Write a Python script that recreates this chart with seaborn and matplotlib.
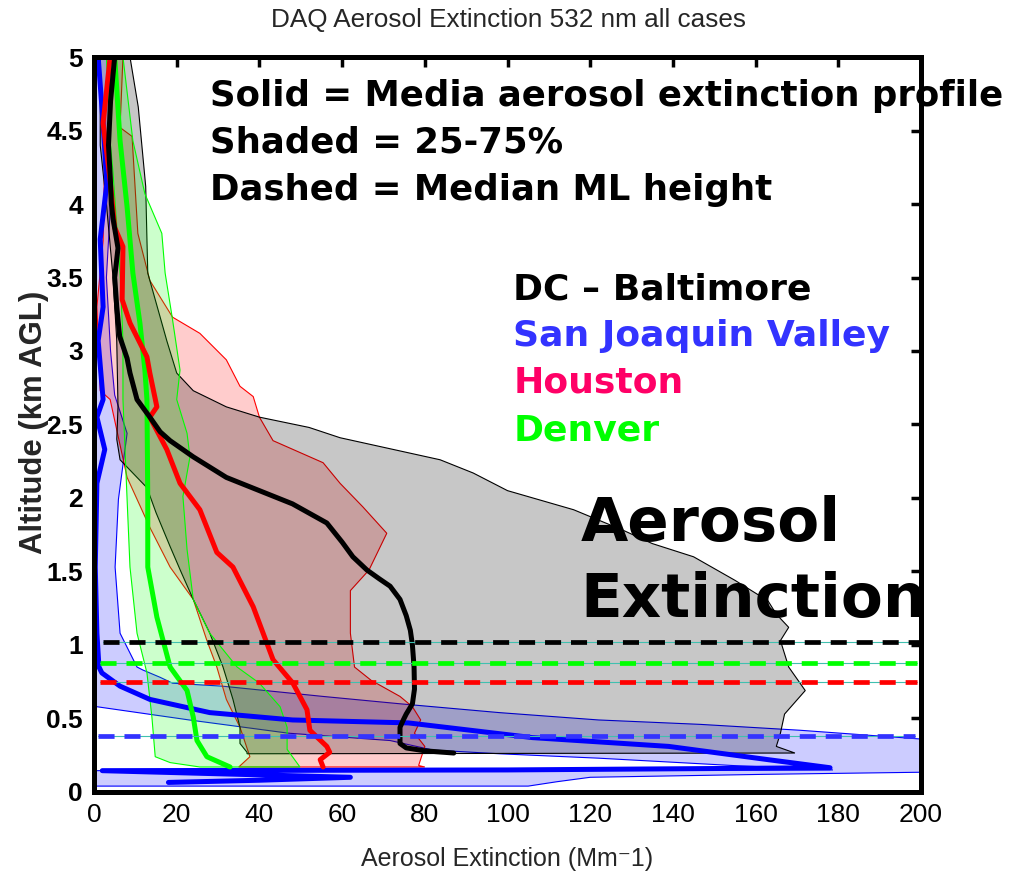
import numpy as np
import matplotlib
matplotlib.use("Agg")
import matplotlib.pyplot as plt
import seaborn as sns

# ---------------- data ----------------
# DC - Baltimore (black)
dc_med_y = [5.0, 4.7, 4.4, 4.2, 4.0, 3.9, 3.7, 3.5, 3.3, 3.1, 2.95, 2.85, 2.67, 2.55, 2.45, 2.39, 2.28, 2.14, 2.05, 1.96,
            1.83, 1.7, 1.6, 1.51, 1.45, 1.40, 1.31, 1.2, 1.1, 1.0, 0.85, 0.7, 0.6, 0.53, 0.49, 0.44, 0.40, 0.33, 0.30,
            0.28, 0.265]
dc_med_x = [5, 4, 3.5, 3.9, 4.2, 4.6, 5.8, 5.0, 5.5, 6.2, 8, 8.7, 10.4, 13.5, 16, 18.4, 24, 32, 40, 48,
            56.3, 60, 62.6, 66, 69, 71.6, 74, 75.5, 76.5, 77, 77.4, 77.5, 77, 75.5, 74.8, 74, 74, 74, 75.5,
            80, 87]
dc_p25_y = [5.0, 4.4, 4.0, 3.5, 3.07, 2.62, 2.4, 2.26, 2.07, 1.9, 1.67, 1.5, 1.31, 1.08, 0.85, 0.63, 0.44, 0.33, 0.27, 0.26]
dc_p25_x = [1.5, 1.5, 3, 4.6, 5.5, 5.8, 5.5, 6.3, 12.8, 15, 18.4, 21, 24, 28, 31.2, 33.6, 35.3, 35.3, 37, 37]
dc_p75_y = [5.0, 4.66, 4.12, 3.76, 3.53, 3.07, 2.85, 2.73, 2.62, 2.55, 2.48, 2.41, 2.26, 2.17, 2.05, 1.92, 1.78, 1.69,
            1.6, 1.44, 1.30, 1.21, 1.12, 1.03, 0.85, 0.69, 0.53, 0.40, 0.31, 0.265]
dc_p75_x = [8.7, 10.7, 12.5, 12.8, 13, 17.6, 20, 24, 32, 40, 52, 59.5, 83.7, 91.7, 100, 116, 128, 135,
            145, 155, 163, 165, 168, 166, 168, 172, 167, 166, 165, 169.5]

# Houston (red)
hou_med_y = [5.0, 4.55, 4.16, 3.84, 3.71, 3.35, 3.19, 2.96, 2.85, 2.62, 2.55, 2.33, 2.10, 1.92, 1.63, 1.53, 1.26, 1.08,
             0.90, 0.74, 0.56, 0.42, 0.31, 0.27, 0.22, 0.17]
hou_med_x = [3.9, 2.2, 3.9, 5, 7, 6.8, 8.7, 12.8, 13.5, 15.2, 13.5, 17.6, 20.8, 25.6, 29.7, 33.6, 38.5, 40.9,
             43.3, 48.1, 51.5, 52.2, 56.3, 57, 54.7, 55.4]
hou_p25_y = [5.0, 4.55, 4.2, 3.75, 3.3, 2.73, 2.67, 2.14, 1.80, 1.53, 1.31, 1.03, 0.85, 0.63, 0.44, 0.24, 0.17]
hou_p25_x = [3.9, 2.2, 2.5, 2.2, 0.7, 1.5, 3.9, 8, 13.5, 18.4, 24, 27.3, 29.7, 32, 35.3, 37.7, 35]
hou_p75_y = [5.0, 4.52, 4.46, 3.8, 3.48, 3.23, 3.12, 2.94, 2.76, 2.69, 2.55, 2.39, 2.24, 2.10, 1.94, 1.76, 1.51, 1.37,
             1.08, 0.85, 0.76, 0.65, 0.58, 0.49, 0.40, 0.31, 0.18, 0.17]
hou_p75_x = [7, 6.3, 9.2, 10.6, 13.5, 19, 25.6, 32, 35.3, 38.5, 40, 43.3, 55.4, 59.5, 65, 70.8, 66.5, 62,
             62, 63, 67, 74, 77, 79, 77.5, 80, 78.5, 80]

# Denver (green)
den_med_y = [5.0, 4.43, 3.98, 3.53, 3.19, 2.87, 2.67, 1.99, 1.53, 1.19, 0.85, 0.69, 0.51, 0.35, 0.24, 0.17]
den_med_x = [5, 6.3, 8, 9.4, 11.1, 12.3, 12.8, 13, 13, 15.2, 18.4, 22.5, 24, 24.9, 27.3, 32.9]
den_p25_y = [5.0, 4.43, 4.21, 3.53, 3.07, 2.67, 1.99, 1.53, 1.08, 0.81, 0.51, 0.24, 0.20, 0.17]
den_p25_x = [3, 3.9, 4.6, 6.3, 7, 7, 8, 8.7, 10.4, 12.8, 14, 14.8, 18.4, 25.6]
den_p75_y = [5.0, 4.43, 4.07, 3.80, 3.53, 3.23, 2.87, 2.67, 2.44, 2.28, 2.01, 1.65, 1.31, 1.08, 0.85, 0.74, 0.58,
             0.44, 0.29, 0.17]
den_p75_x = [7, 9.4, 12.3, 16.4, 17.2, 18.9, 20.8, 20, 22.5, 23.2, 21.5, 22.5, 24, 28, 34.6, 40, 45,
             46.7, 46.7, 49.8]

# San Joaquin Valley (blue)
sjv_med_y = [5.0, 4.55, 4.14, 3.76, 3.30, 3.07, 2.67, 2.55, 2.33, 2.10, 1.53, 1.08, 0.85, 0.81, 0.72, 0.63, 0.54,
             0.49, 0.47, 0.37, 0.31, 0.22, 0.165, 0.15, 0.145, 0.10, 0.08, 0.065]
sjv_med_x = [1, 2.2, 3.1, 1.5, 2.2, 1, 2.2, 0.7, 2.6, 0.7, 0.3, 0.7, 1.2, 1.9, 6.3, 13.5, 28,
             48, 76, 106, 139, 163, 178, 100, 2, 62, 40, 18]
sjv_p25_y = [5.0, 0.6, 0.58, 0.49, 0.40, 0.35, 0.285, 0.26, 0.23, 0.18, 0.15, 0.145, 0.04]
sjv_p25_x = [0, 0, 0.7, 23, 47, 71.6, 82, 98, 122, 154.5, 178.7, 0, 0]
sjv_p75_y = [5.0, 4.5, 4.0, 3.5, 3.0, 2.7, 2.44, 1.99, 1.53, 1.08, 0.85, 0.83, 0.78, 0.74, 0.72, 0.65, 0.60, 0.54,
             0.49, 0.46, 0.42, 0.35, 0.14, 0.12, 0.10, 0.07, 0.04]
sjv_p75_x = [4, 3.5, 4, 3, 4, 5, 8, 5.9, 5.1, 6.3, 10.4, 11.8, 16, 19, 31, 55.4, 74, 98,
             122, 146.6, 170.7, 205, 215, 162, 120, 112, 105]

# Median mixed-layer heights (km AGL)
ml_height = {"DC": 1.02, "DEN": 0.877, "HOU": 0.748, "SJV": 0.38}

title = "DAQ Aerosol Extinction 532 nm all cases"
xlabel = "Aerosol Extinction (Mm\u207b1)"
ylabel = "Altitude (km AGL)"
x_ticks = [0, 20, 40, 60, 80, 100, 120, 140, 160, 180, 200]
y_ticks = [0, 0.5, 1, 1.5, 2, 2.5, 3, 3.5, 4, 4.5, 5]
y_ticklabels = ["0", "0.5", "1", "1.5", "2", "2.5", "3", "3.5", "4", "4.5", "5"]

# ---------------- style ----------------
sns.set_theme(style="white")
plt.rcParams["font.family"] = ["Liberation Sans", "DejaVu Sans"]

fig = plt.figure(figsize=(10.12, 8.73), dpi=100)
ax = fig.add_axes([0.0929, 0.0928, 0.8172, 0.8419])

C_DC, C_HOU, C_DEN, C_SJV = "#000000", "#ff0000", "#00ff00", "#0000ff"


def shade(p25x, p25y, p75x, p75y, color, alpha=0.2):
    px = np.r_[np.asarray(p25x, float), np.asarray(p75x, float)[::-1]]
    py = np.r_[np.asarray(p25y, float), np.asarray(p75y, float)[::-1]]
    rgb = matplotlib.colors.to_rgb(color)
    ax.fill(px, py, facecolor=(*rgb, alpha), edgecolor=color, linewidth=0.8, zorder=2)


shade(sjv_p25_x, sjv_p25_y, sjv_p75_x, sjv_p75_y, C_SJV)
shade(hou_p25_x, hou_p25_y, hou_p75_x, hou_p75_y, C_HOU)
shade(dc_p25_x, dc_p25_y, dc_p75_x, dc_p75_y, C_DC, alpha=0.22)
shade(den_p25_x, den_p25_y, den_p75_x, den_p75_y, C_DEN)

for mx, my, col in [(sjv_med_x, sjv_med_y, C_SJV), (den_med_x, den_med_y, C_DEN),
                    (hou_med_x, hou_med_y, C_HOU), (dc_med_x, dc_med_y, C_DC)]:
    sns.lineplot(x=mx, y=my, sort=False, estimator=None, color=col, linewidth=3.6, ax=ax, zorder=4)

# median ML heights
for key, col, x0, x1 in [("DC", "#000000", 0.011, 1.0), ("DEN", "#00ff00", 0.007, 0.995),
                         ("HOU", "#ff0000", 0.007, 0.995), ("SJV", "#3333ff", 0.005, 0.993)]:
    ax.axhline(ml_height[key], xmin=x0, xmax=x1, color="#40c0b0", lw=0.8, zorder=5)
    ax.axhline(ml_height[key], xmin=x0, xmax=x1, color=col, lw=3.4, dashes=(3.4, 2.1), zorder=6)

ax.set_xlim(0, 200)
ax.set_ylim(0, 5)
ax.set_xticks(x_ticks)
ax.set_yticks(y_ticks)
ax.set_yticklabels(y_ticklabels)
ax.tick_params(axis="both", which="major", direction="in", length=7, width=2.5,
               top=True, right=True, colors="black", pad=8)
ax.tick_params(axis="x", labelsize=19)
ax.tick_params(axis="y", labelsize=19)
for lab in ax.get_yticklabels():
    lab.set_fontweight("bold")
for s in ax.spines.values():
    s.set_linewidth(3.6)
    s.set_color("black")
    s.set_zorder(10)

ax.set_xlabel(xlabel, fontsize=18, labelpad=14)
ax.set_ylabel(ylabel, fontsize=22.4, fontweight="bold")
ax.yaxis.set_label_coords(-0.054, 0.503)
fig.text(0.502, 0.977, title, ha="center", va="center", fontsize=18.8)

bold_font = ["DejaVu Sans"]
for txt, yy in [("Solid = Media aerosol extinction profile", 0.9333),
                ("Shaded = 25-75%", 0.8694),
                ("Dashed = Median ML height", 0.8054)]:
    ax.text(0.140, yy, txt, transform=ax.transAxes, fontsize=25.6, fontweight="bold",
            family=bold_font, color="black", va="baseline", ha="left", clip_on=False, zorder=12)

for txt, yy, col in [("DC \u2013 Baltimore", 0.6707, "#000000"),
                     ("San Joaquin Valley", 0.6068, "#3333ff"),
                     ("Houston", 0.5429, "#ff0066"),
                     ("Denver", 0.4776, "#00ff00")]:
    ax.text(0.507, yy, txt, transform=ax.transAxes, fontsize=26, fontweight="bold",
            family=bold_font, color=col, va="baseline", ha="left", zorder=12)

for txt, yy in [("Aerosol", 0.3415), ("Extinction", 0.2381)]:
    ax.text(0.588, yy, txt, transform=ax.transAxes, fontsize=44, fontweight="bold",
            family=bold_font, color="black", va="baseline", ha="left", zorder=12, clip_on=False)

fig.savefig("out.png", dpi=100, facecolor="white")
